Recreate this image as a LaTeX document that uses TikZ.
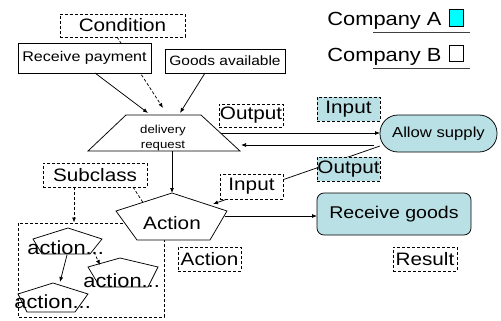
\documentclass[tikz,border=0pt]{standalone}
\usepackage{fontspec}
\setmainfont[FakeStretch=1.15]{Liberation Sans}
\usetikzlibrary{arrows.meta}
\definecolor{tealA}{RGB}{185,224,228}
\definecolor{cyanA}{RGB}{0,255,255}
\begin{document}
\begin{tikzpicture}[x=1pt,y=-1pt,line width=0.75pt,
  arr/.style={-{Latex[length=5pt,width=4pt]}},
  dsh/.style={dash pattern=on 3pt off 2pt},
  lbl/.style={draw,dsh,fill=white,inner sep=0pt,font=\fontsize{18}{18}\selectfont},
  tlbl/.style={lbl,fill=tealA},
  sbox/.style={draw,fill=white,inner sep=0pt},
  tbox/.style={draw,fill=tealA,inner sep=0pt},
  poly/.style={draw,fill=white},
  txt/.style={inner sep=0pt,font=\fontsize{18}{18}\selectfont},
  smalltxt/.style={inner sep=0pt,font=\fontsize{19}{19}\selectfont,anchor=base west}]
\useasboundingbox (0,0) rectangle (501,321);

% legend
\node[inner sep=0pt,anchor=base west,font=\fontsize{19}{19}\selectfont] (compA) at (327,26) {Company A};
\node[inner sep=0pt,anchor=base west,font=\fontsize{19}{19}\selectfont] (compB) at (327,62) {Company B};
\node[draw,fill=cyanA,minimum width=14pt,minimum height=17pt,inner sep=0pt] (sqA) at (456,17.5) {};
\node[draw,fill=white,minimum width=14pt,minimum height=16pt,inner sep=0pt] (sqB) at (456,53) {};
\coordinate (ulA1) at (373,32); \coordinate (ulA2) at (470,32);
\coordinate (ulB1) at (373,68); \coordinate (ulB2) at (470,68);
\draw[black!75] (ulA1) -- (ulA2);
\draw[black!75] (ulB1) -- (ulB2);

% subclass region
\draw[dsh] (18,223) rectangle (164,317);

% condition
\node[lbl,minimum width=125pt,minimum height=23pt] (cond) at (122.5,25.5) {Condition};
\coordinate (c1) at (117,37); \coordinate (d3) at (163,108);
\draw[arr,dsh] (c1) -- (d3);

\node[sbox,minimum width=133pt,minimum height=30pt,font=\fontsize{14}{14}\selectfont] (pay) at (84.5,58) {Receive payment};
\node[sbox,minimum width=120pt,minimum height=24pt,font=\fontsize{13.5}{13.5}\selectfont] (goods) at (225,61) {Goods available};

% delivery request
\draw[poly] (126,115) -- (201,115) -- (240,151) -- (88,151) -- cycle;
\node[inner sep=0pt,align=center,font=\fontsize{11.5}{15}\selectfont] (del) at (163,138) {delivery\\request};
\coordinate (p1) at (95,73); \coordinate (d1) at (148,113);
\coordinate (g1) at (205,73); \coordinate (d2) at (180,113);
\draw[arr] (p1) -- (d1);
\draw[arr] (g1) -- (d2);

\node[lbl,minimum width=64pt,minimum height=23pt] (out1) at (251,115.5) {Output};
\node[tlbl,minimum width=63pt,minimum height=24pt] (in1) at (348.5,109) {Input};

% allow supply
\node[tbox,rounded corners=18pt,minimum width=117pt,minimum height=37pt,font=\fontsize{14.5}{14.5}\selectfont] (allow) at (438.5,133.5) {Allow supply};
\coordinate (dr1) at (220.5,133); \coordinate (al1) at (380,133);
\coordinate (al2) at (374,145); \coordinate (dr2) at (241,145);
\draw[arr] (dr1) -- (al1);
\draw[arr] (al2) -- (dr2);

% action
\coordinate (al3) at (380,146); \coordinate (ac1) at (213,204);
\draw[arr] (al3) -- (ac1);
\node[tlbl,minimum width=63pt,minimum height=24pt] (out2) at (348.5,169) {Output};
\node[lbl,minimum width=63pt,minimum height=25pt] (in2) at (251.5,186.5) {Input};

\node[lbl,minimum width=104pt,minimum height=24pt] (subc) at (95,175) {Subclass};
\coordinate (s1) at (133,187); \coordinate (ac2) at (143,202.5);
\draw[dsh] (s1) -- (ac2);
\coordinate (s2) at (74,187); \coordinate (sb1) at (74,222.5);
\draw[arr,dsh] (s2) -- (sb1);

\coordinate (dr3) at (172,151); \coordinate (ac3) at (172,193);
\draw[arr] (dr3) -- (ac3);
\draw[poly] (172,193) -- (227,211) -- (210,240) -- (137,240) -- (116,211) -- cycle;
\node[txt] (act) at (172,223) {Action};

\node[tbox,rounded corners=7pt,minimum width=154pt,minimum height=42pt,font=\fontsize{17}{17}\selectfont] (recv) at (394,214) {Receive goods};
\coordinate (ac4) at (224.5,216); \coordinate (rg1) at (317,216);
\draw[arr] (ac4) -- (rg1);

\node[lbl,minimum width=63pt,minimum height=24pt] (actl) at (209.5,259) {Action};
\node[lbl,minimum width=64pt,minimum height=24pt] (res) at (425,259) {Result};

% sub-actions
\draw[poly] (68,228) -- (102,239) -- (90,254) -- (42,254) -- (33,239) -- cycle;
\draw[poly] (120,258) -- (158,267) -- (148,287) -- (100,287) -- (88,267) -- cycle;
\draw[poly] (53,283) -- (88,294) -- (75,312) -- (27,312) -- (18,294) -- cycle;
\node[smalltxt] (a1) at (27,254) {action...};
\node[smalltxt] (a2) at (83,287) {action...};
\node[smalltxt] (a3) at (14,308) {action...};
\coordinate (a1b) at (67,255); \coordinate (a3t) at (60,282);
\draw[arr] (a1b) -- (a3t);
\coordinate (a1r) at (94,252); \coordinate (a2t) at (100,265);
\draw[arr,dsh] (a1r) -- (a2t);
\end{tikzpicture}
\end{document}
